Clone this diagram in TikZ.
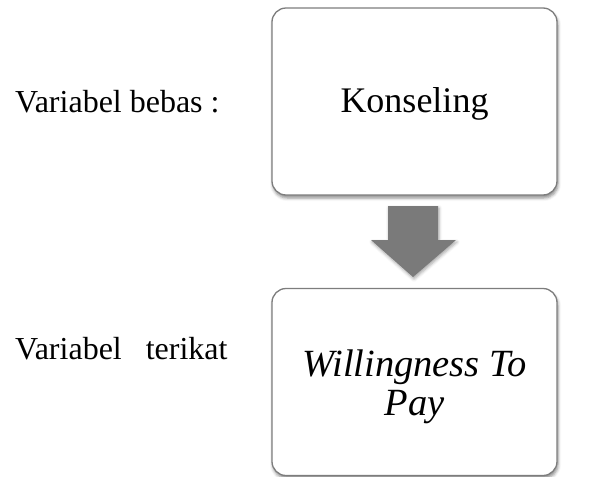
\documentclass[tikz,border=0pt]{standalone}
\usepackage{fontspec}
\setmainfont{Liberation Serif}
\usepackage{tikz}
\usetikzlibrary{shadows.blur}
\usetikzlibrary{positioning}

\definecolor{boxline}{RGB}{125,125,125}
\definecolor{arrowgray}{RGB}{122,122,122}

\tikzset{
    varbox/.style={draw=boxline,line width=1.3pt,fill=white,rounded corners=14pt,
        minimum width=285pt,minimum height=187pt,align=center,
        font=\fontsize{36}{40}\selectfont,
        blur shadow={shadow xshift=1pt,shadow yshift=-3pt,shadow blur radius=3pt,shadow opacity=45}},
    varlabel/.style={anchor=west,inner sep=0pt,font=\fontsize{32}{36}\selectfont}
}

\begin{document}
\begin{tikzpicture}[x=1pt,y=-1pt]
        \useasboundingbox (0,0) rectangle (598,477);

        \node[varbox] (bebas) at (414.5,101.5) {};
        \node (konseling) at (414.5,104) {\fontsize{36}{40}\selectfont Konseling};
        \node[varbox] (terikat) at (414.5,382) {};
        \node[align=center,font=\fontsize{38.5}{39}\selectfont\itshape] (wtp) at (414.5,387) {Willingness To\\Pay};

        \node[varlabel,anchor=base west] (lbebas) at (15,112) {Variabel bebas :};
        \node[varlabel,anchor=base west] (lterikat) at (15,359) {Variabel~~~terikat};

        % block arrow between the boxes
        \fill[arrowgray,blur shadow={shadow xshift=1pt,shadow yshift=-2pt,shadow blur radius=3pt,shadow opacity=35}]
            (388,206) -- (438,206) -- (438,240) -- (456,240) -- (413,277) -- (371,240) -- (388,240) -- cycle;
    \end{tikzpicture}
\end{document}
